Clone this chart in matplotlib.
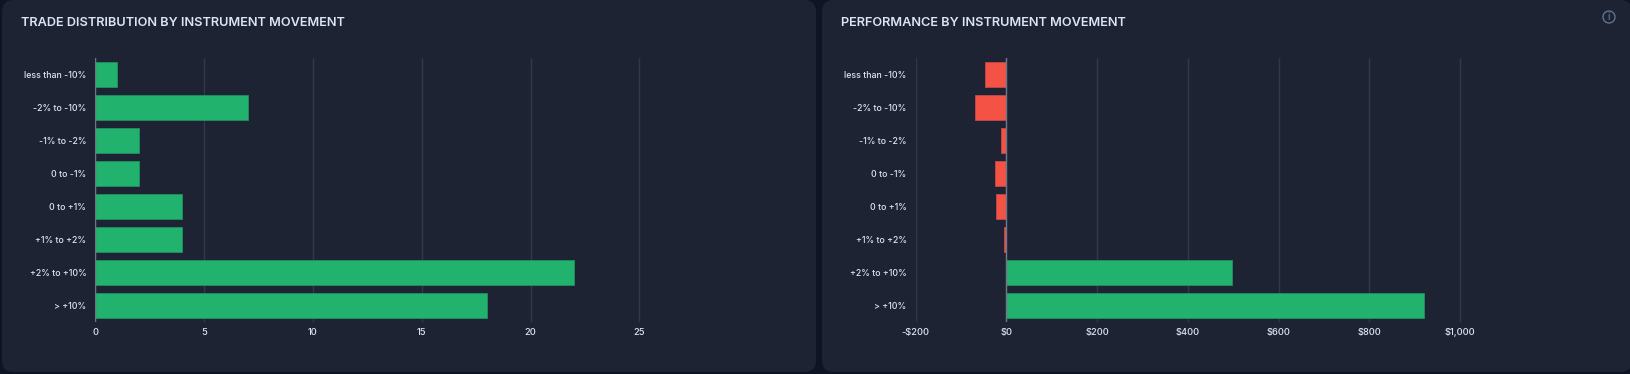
import matplotlib
matplotlib.use("Agg")
import matplotlib.pyplot as plt
from matplotlib.patches import FancyBboxPatch, Circle

categories = ["less than -10%", "-2% to -10%", "-1% to -2%", "0 to -1%",
              "0 to +1%", "+1% to +2%", "+2% to +10%", "> +10%"]
trade_counts = [1, 7, 2, 2, 4, 4, 22, 18]
performance = [-46, -69, -11, -25, -23, -6, 497, 920]
count_ticks = [0, 5, 10, 15, 20, 25]
perf_ticks = [-200, 0, 200, 400, 600, 800, 1000]
perf_labels = ["-$200", "$0", "$200", "$400", "$600", "$800", "$1,000"]
titles = ["TRADE DISTRIBUTION BY INSTRUMENT MOVEMENT", "PERFORMANCE BY INSTRUMENT MOVEMENT"]

W, H = 1630, 374
BG, PANEL = "#0f1424", "#1e2334"
GREEN, GREEN_E = "#21b36e", "#1f8f63"
RED, RED_E = "#f45245", "#c2484a"
GRID, AXIS, TXT = "#32384a", "#6f7685", "#dbe6f2"
plt.rcParams["font.family"] = ["Inter", "DejaVu Sans"]

fig = plt.figure(figsize=(W / 100, H / 100), dpi=100, facecolor=BG)
bg = fig.add_axes([0, 0, 1, 1])
bg.set_xlim(0, W); bg.set_ylim(H, 0); bg.axis("off")
for x0, x1 in [(2, 816), (822, 1632)]:
    bg.add_patch(FancyBboxPatch((x0 + 12, 0), x1 - x0 - 24, 360,
                                boxstyle="round,pad=0,rounding_size=12",
                                fc=PANEL, ec="none"))
    bg.add_patch(FancyBboxPatch((x0 + 12, 12), x1 - x0 - 24, 348,
                                boxstyle="round,pad=12,rounding_size=12",
                                fc=PANEL, ec="none"))
bg.text(21, 23, titles[0], color=TXT, fontsize=9.2, fontweight="semibold", va="center", ha="left")
bg.text(841, 23, titles[1], color=TXT, fontsize=9.2, fontweight="semibold", va="center", ha="left")
bg.add_patch(Circle((1609, 17), 6, fc="none", ec="#5f7391", lw=1))
bg.text(1609, 17.3, "i", color="#6f84a3", fontsize=7.5, ha="center", va="center")


def panel(left_px, right_px, xlim, values, ticks, labels):
    ax = fig.add_axes([left_px / W, 1 - 322 / H, (right_px - left_px) / W, 264 / H])
    ax.set_facecolor("none")
    colors = [GREEN if v >= 0 else RED for v in values]
    edges = [GREEN_E if v >= 0 else RED_E for v in values]
    ypos = list(range(len(categories)))
    ax.barh(ypos, values, height=0.785, color=colors, edgecolor=edges, linewidth=0.6, zorder=3)
    ax.set_ylim(len(categories) - 0.5, -0.5)
    ax.set_xlim(*xlim)
    ax.set_xticks(ticks, labels, va="baseline")
    ax.set_yticks(ypos, categories, fontweight="medium")
    for t in ax.get_xticklabels():
        t.set_fontweight("medium")
    ax.grid(axis="x", color=GRID, lw=1, zorder=0)
    ax.axvline(0, color=AXIS, lw=1, zorder=4)
    for s in ax.spines.values():
        s.set_visible(False)
    ax.tick_params(axis="both", length=0, colors=TXT)
    ax.tick_params(axis="y", pad=6.5, labelsize=6.35)
    ax.tick_params(axis="x", pad=9.5, labelsize=6.7)
    return ax


panel(95.3, 95.3 + 30 * 21.76, (0, 30), trade_counts, count_ticks,
      [str(t) for t in count_ticks])
panel(915.6, 915.6 + 1300 * 0.4537, (-200, 1100), performance, perf_ticks, perf_labels)

fig.savefig("out.png", dpi=100, facecolor=BG)
